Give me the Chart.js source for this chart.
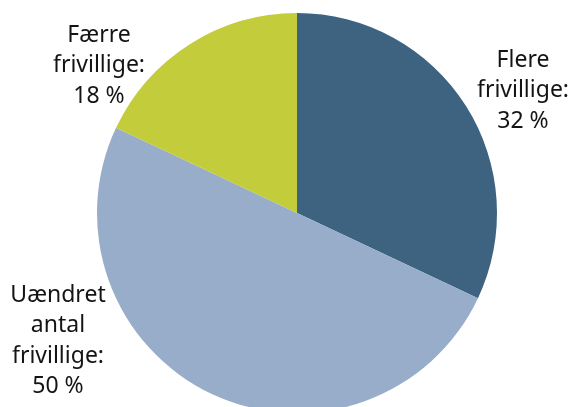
<!DOCTYPE html>
<html>
<head>
<meta charset="utf-8">
<script src="https://cdn.jsdelivr.net/npm/chart.js@4"></script>
<style>
  html, body { margin: 0; padding: 0; background: #fff; overflow: hidden; }
  #wrap { position: relative; width: 571px; height: 413px; }
</style>
</head>
<body>
<div id="wrap"><canvas id="pie"></canvas></div>
<script>
const categories = ['Flere frivillige', 'Uændret antal frivillige', 'Færre frivillige'];
const shares = [32, 50, 18];
const colors = ['#3e6380', '#97adc9', '#c3cc3b'];
// label lines per slice, and where they sit relative to the pie centre
const labelLines = [
    ['Flere', 'frivillige:', '32 %'],
    ['Uændret', 'antal', 'frivillige:', '50 %'],
    ['Færre', 'frivillige:', '18 %']
];
const labelOffsets = [[226, -153], [-239, 82], [-198, -178]];

const sliceLabels = {
    id: 'sliceLabels',
    afterDraw(chart) {
        const ctx = chart.ctx;
        const arc = chart.getDatasetMeta(0).data[0];
        ctx.save();
        ctx.font = '23px "Noto Sans", sans-serif';
        ctx.fillStyle = '#141414';
        ctx.textAlign = 'center';
        ctx.textBaseline = 'middle';
        labelLines.forEach((lines, i) => {
            const x = arc.x + labelOffsets[i][0];
            const y0 = arc.y + labelOffsets[i][1];
            lines.forEach((t, j) => ctx.fillText(t, x, y0 + j * 30.5));
        });
        ctx.restore();
    }
};

new Chart(document.getElementById('pie'), {
    type: 'pie',
    data: {
        labels: categories,
        datasets: [{
            data: shares,
            backgroundColor: colors,
            borderWidth: 0,
            hoverOffset: 0
        }]
    },
    options: {
        responsive: true,
        maintainAspectRatio: false,
        animation: false,
        layout: { padding: { top: 13, left: 23, right: 0, bottom: 0 } },
        plugins: {
            legend: { display: false },
            tooltip: { enabled: false }
        }
    },
    plugins: [sliceLabels]
});
</script>
</body>
</html>
